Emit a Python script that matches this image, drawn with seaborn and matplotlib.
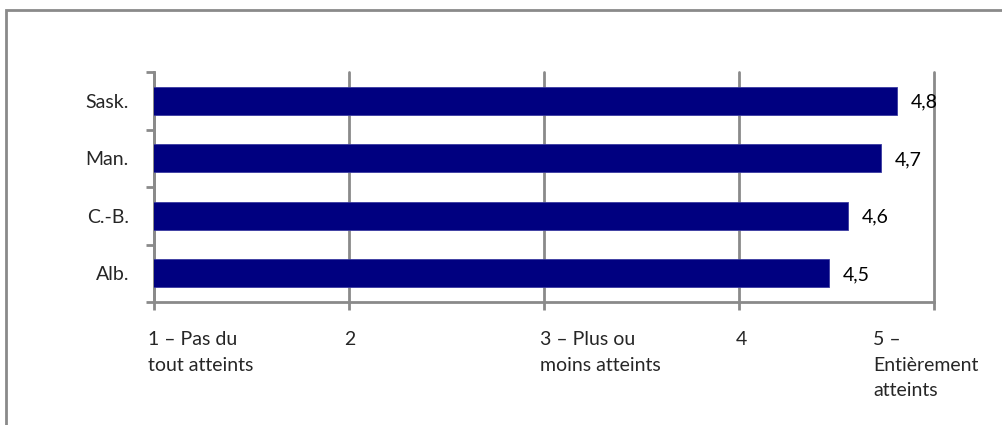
import matplotlib
matplotlib.use("Agg")
import matplotlib.pyplot as plt
from matplotlib.patches import Rectangle
from matplotlib.transforms import ScaledTranslation
from matplotlib.ticker import FixedLocator
import seaborn as sns
import pandas as pd

# Average rating per province (scale 1 to 5)
provinces = ["Sask.", "Man.", "C.-B.", "Alb."]
scores = [4.81, 4.73, 4.56, 4.46]

scale_ticks = [1, 2, 3, 4, 5]
scale_labels = [
    "1 – Pas du\ntout atteints",
    "2",
    "3 – Plus ou\nmoins atteints",
    "4",
    "5 –\nEntièrement\natteints",
]

df = pd.DataFrame({"province": provinces, "score": scores})

sns.set_theme(style="white")
plt.rcParams["font.family"] = ["Lato", "DejaVu Sans"]

W, H, DPI = 1003, 425, 100
fig = plt.figure(figsize=(W / DPI, H / DPI), dpi=DPI)
ax = fig.add_axes([154 / W, 1 - 302 / H, (934 - 154) / W, (302 - 72) / H])

grey = "#8a8a8a"
navy = "#000080"
fs = 14

sns.barplot(data=df, y="province", x="score", order=provinces, orient="h",
            color=navy, width=0.49, edgecolor="#3a3aa0", linewidth=0.6,
            saturation=1, ax=ax, zorder=3)

ax.set_xlim(1, 5)
ax.set_ylim(len(provinces) - 0.5, -0.5)
ax.set_xlabel("")
ax.set_ylabel("")

# Vertical gridlines at each scale point
ax.set_xticks(scale_ticks)
ax.set_xticklabels(scale_labels, fontsize=fs, linespacing=1.6)
ax.xaxis.grid(True, color=grey, linewidth=2, zorder=0)
ax.yaxis.grid(False)
for gl in ax.get_xgridlines():
    gl.set_clip_on(False)

for side in ["top", "right"]:
    ax.spines[side].set_visible(False)
for side in ["left", "bottom"]:
    ax.spines[side].set_color(grey)
    ax.spines[side].set_linewidth(2)

ax.tick_params(axis="x", which="major", length=6, width=2, color=grey,
               direction="out", bottom=True, pad=15)
# Category separators as minor ticks on the y axis
ax.yaxis.set_minor_locator(FixedLocator([i - 0.5 for i in range(len(provinces) + 1)]))
ax.tick_params(axis="y", which="minor", length=6, width=2, color=grey,
               direction="out", left=True)
ax.tick_params(axis="y", which="major", length=0, pad=18, labelsize=fs)

# Left-align the scale labels just past each gridline
offsets_px = [-6, -5, -4, -3, -61]
for lab, dx in zip(ax.get_xticklabels(), offsets_px):
    lab.set_horizontalalignment("left")
    lab.set_multialignment("left")
    lab.set_transform(lab.get_transform() + ScaledTranslation(dx / DPI, 0, fig.dpi_scale_trans))

# Value labels to the right of each bar
for i, v in enumerate(scores):
    ax.annotate(f"{v:.1f}".replace(".", ","), xy=(v, i), xytext=(10, -1),
                textcoords="offset points", va="center", ha="left",
                fontsize=fs, color="black", annotation_clip=False)

# Chart frame
fig.patches.append(Rectangle((6 / W, -0.1), 1.2, (1 - 10 / H) + 0.1,
                             transform=fig.transFigure, fill=False,
                             edgecolor=grey, linewidth=2))

fig.savefig("out.png", dpi=DPI)
